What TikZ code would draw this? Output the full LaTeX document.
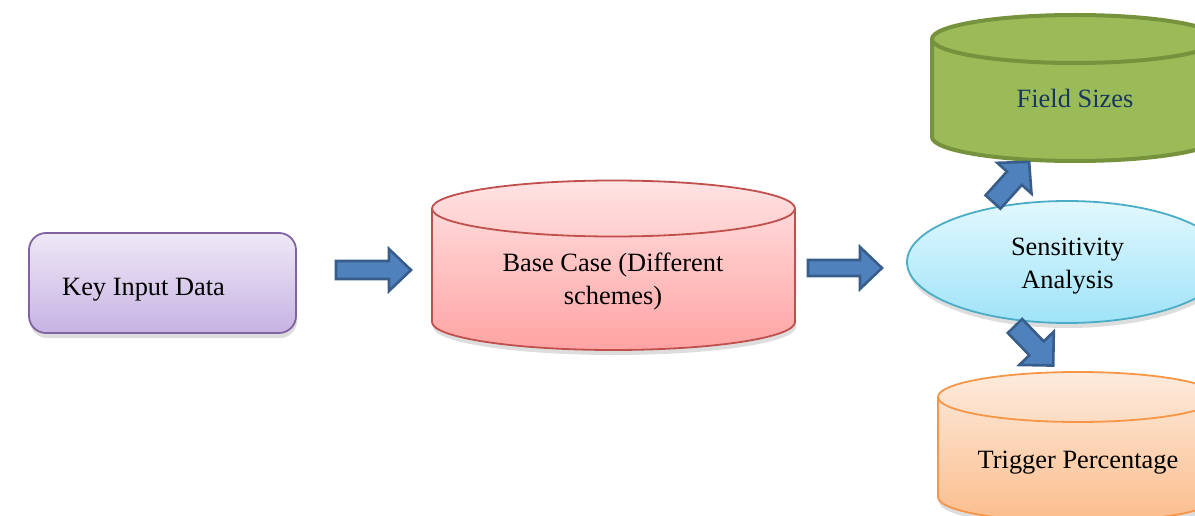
\documentclass[tikz,border=0pt]{standalone}
\usepackage{fontspec}
\setmainfont{Liberation Serif}
\usetikzlibrary{shadows}
\definecolor{arrfill}{HTML}{4F81BD}
\definecolor{arrdraw}{HTML}{385D8A}
\definecolor{purpledraw}{HTML}{8064A2}
\definecolor{purpletop}{HTML}{EEE8F6}
\definecolor{purplebot}{HTML}{C7B3E3}
\definecolor{reddraw}{HTML}{C0504D}
\definecolor{redtop}{HTML}{FFE3E3}
\definecolor{redbot}{HTML}{FFA3A3}
\definecolor{greendraw}{HTML}{76923C}
\definecolor{greenfill}{HTML}{9BBB59}
\definecolor{cyandraw}{HTML}{4BACC6}
\definecolor{cyantop}{HTML}{E2F8FE}
\definecolor{cyanbot}{HTML}{9FE3F8}
\definecolor{orangedraw}{HTML}{F79646}
\definecolor{orangetop}{HTML}{FDEBDD}
\definecolor{orangebot}{HTML}{FBBD8C}
\definecolor{navytext}{HTML}{17375E}
\newcommand\blockarrow[7]{%
  \begin{scope}[shift={(#1)}, rotate=#2]
    \draw[barrow] (0,-#4) -- ({#3-#6},-#4) -- ({#3-#6},-#5) -- (#3,0)
      -- ({#3-#6},#5) -- ({#3-#6},#4) -- (0,#4) -- cycle;
    \coordinate (#7) at (#3,0);
  \end{scope}}
\newcommand\cylpath[5]{% cx, ytop, ybot, rx, ry
  ({#1-#4},#2) -- ({#1-#4},#3) arc[start angle=180, end angle=360, x radius=#4, y radius=#5]
  -- ({#1+#4},#2) arc[start angle=0, end angle=180, x radius=#4, y radius=#5] -- cycle}
\tikzset{
  barrow/.style={fill=arrfill, draw=arrdraw, line width=2.6pt, line join=miter},
  txt/.style={font=\fontsize{26.4}{33}\selectfont, inner sep=0pt, align=center},
  softshadow/.style={drop shadow={shadow xshift=1pt, shadow yshift=-5pt, opacity=0.22, fill=black!60}},
}
\begin{document}
\begin{tikzpicture}[x=1pt,y=1pt]
\useasboundingbox (0,0) rectangle (1195,515);
\clip (0,0) rectangle (1195,515);
% Key Input Data
\path[softshadow, draw=purpledraw, line width=1.8pt, rounded corners=17pt,
  top color=purpletop, bottom color=purplebot] (29,182) rectangle (296,282);
\node[txt, anchor=base west] (key) at (62,220) {Key Input Data};
% Base case cylinder
\path[softshadow, draw=reddraw, line width=1.8pt, top color=redtop, bottom color=redbot]
  \cylpath{613.5}{306.5}{193}{181.5}{28};
\draw[reddraw, line width=1.8pt] (432,306.5) arc[start angle=180, end angle=360, x radius=181.5, y radius=28];
\node[txt] (base) at (613,233) {Base Case (Different\\schemes)};
% Field sizes cylinder
\path[draw=greendraw, line width=4pt, fill=greenfill] \cylpath{1075}{476}{378}{143}{24};
\draw[greendraw, line width=4pt] (932,476) arc[start angle=180, end angle=360, x radius=143, y radius=24];
\node[txt, text=navytext, anchor=base] (field) at (1075,407) {Field Sizes};
% Sensitivity ellipse
\path[softshadow, draw=cyandraw, line width=1.8pt, top color=cyantop, bottom color=cyanbot]
  (1067,253) ellipse[x radius=160, y radius=61];
\node[txt] (sens) at (1067.5,249) {Sensitivity\\Analysis};
% Trigger percentage cylinder
\path[softshadow, draw=orangedraw, line width=1.8pt, top color=orangetop, bottom color=orangebot]
  \cylpath{1078}{118}{18}{140}{25};
\draw[orangedraw, line width=1.8pt] (938,118) arc[start angle=180, end angle=360, x radius=140, y radius=25];
\node[txt, anchor=base] (trig) at (1078,47) {Trigger Percentage};
% Block arrows
\coordinate (a1) at (336,245);
\coordinate (a2) at (808,247);
\coordinate (a3) at (993,313);
\coordinate (a4) at (1015,189);
\blockarrow{a1}{0}{75}{9}{21}{22}{a1tip}
\blockarrow{a2}{0}{74}{8}{21}{22}{a2tip}
\blockarrow{a3}{48}{54}{10}{23}{22}{a3tip}
\blockarrow{a4}{-46}{55}{10}{24}{24}{a4tip}
\end{tikzpicture}
\end{document}
